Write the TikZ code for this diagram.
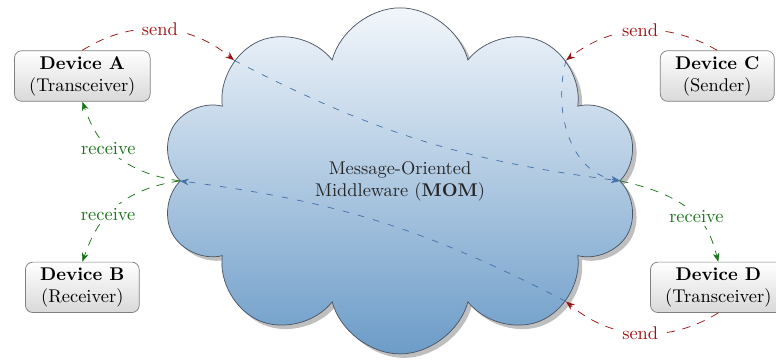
\documentclass[tikz,border=0pt]{standalone}
\usepackage{tikz}
\usetikzlibrary{arrows.meta,shapes.symbols,shadows}

\definecolor{sendred}{RGB}{155,20,20}
\definecolor{recvgreen}{RGB}{25,115,25}
\definecolor{flowblue}{RGB}{70,115,170}
\definecolor{cloudtop}{RGB}{242,246,251}
\definecolor{cloudbottom}{RGB}{108,156,200}
\definecolor{cloudline}{RGB}{75,85,100}

\begin{document}
\begin{tikzpicture}[
  device/.style={
    draw=gray,
    rounded corners=4pt,
    top color=white,
    bottom color=gray!30,
    align=center,
    inner xsep=8pt,
    inner ysep=3pt
  },
  mw/.style={
    cloud,
    cloud puffs=10,
    cloud puff arc=150,
    aspect=1.73,
    draw=cloudline,
    top color=cloudtop,
    bottom color=cloudbottom,
    minimum width=9.12cm,
    minimum height=6.6cm,
    drop shadow,
    align=center,
    text=black!85
  },
  send/.style={-Stealth, dash pattern=on 4.5pt off 4pt, sendred},
  recv/.style={-Stealth, dash pattern=on 4.5pt off 4pt, recvgreen},
  flow/.style={-Stealth, dash pattern=on 3.5pt off 5pt, flowblue},
  lbl/.style={fill=white, inner sep=2pt}
]
\useasboundingbox (-7.63,-3.41) rectangle (7.17,3.45);

\node[mw] (mom) at (0,0) {Message-Oriented\\Middleware (\textbf{MOM})};
\node[device] (a) at (-6.06,2) {\textbf{Device A}\\(Transceiver)};
\node[device] (b) at (-6.06,-2.03) {\textbf{Device B}\\(Receiver)};
\node[device] (c) at (6.05,2) {\textbf{Device C}\\(Sender)};
\node[device] (d) at (6.07,-2.03) {\textbf{Device D}\\(Transceiver)};

% through the middleware
\draw[flow] (mom.144) to[bend right=10] (mom.0);
\draw[flow] (mom.36) to[out=-105, in=170] (mom.0);
\draw[flow] (mom.-36) to[bend right=10] (mom.180);

% send
\draw[send] (a.north) to[bend left=36] node[lbl]{send} (mom.144);
\draw[send] (c.north) to[bend right=34] node[lbl]{send} (mom.36);
\draw[send] (d.south) to[bend left=36] node[lbl]{send} (mom.-36);

% receive
\draw[recv] (mom.180) to[out=172, in=-70, out looseness=1.46, in looseness=0.62]
  node[lbl]{receive} (a.south);
\draw[recv] (mom.180) to[out=188, in=70, out looseness=1.46, in looseness=0.62]
  node[lbl]{receive} (b.north);
\draw[recv] (mom.0) to[out=-12, in=105, out looseness=1.66, in looseness=0.64]
  node[lbl]{receive} (d.north);
\end{tikzpicture}
\end{document}
